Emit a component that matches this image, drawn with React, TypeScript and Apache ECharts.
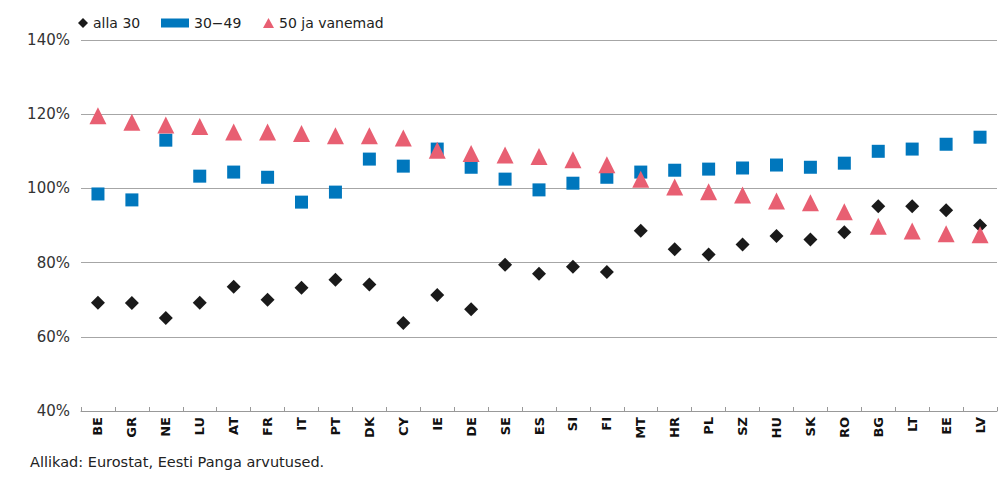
import React, { useEffect, useRef } from "react";
import * as echarts from "echarts";

const categories = ["BE","GR","NE","LU","AT","FR","IT","PT","DK","CY","IE","DE","SE","ES","SI","FI","MT","HR","PL","SZ","HU","SK","RO","BG","LT","EE","LV"];
const alla30 = [69.2,69.1,65.1,69.2,73.5,70.0,73.2,75.4,74.1,63.7,71.3,67.4,79.4,77.0,78.9,77.5,88.6,83.6,82.2,84.9,87.2,86.2,88.2,95.2,95.2,94.1,90.0];
const vanus3049 = [98.5,96.9,113.0,103.3,104.4,103.0,96.3,99.0,107.9,106.0,110.6,105.7,102.5,99.6,101.4,103.0,104.4,104.9,105.2,105.5,106.3,105.7,106.8,110.0,110.6,111.9,113.8];
const vanus50 = [119.6,117.8,117.1,116.7,115.2,115.2,114.8,114.2,114.2,113.6,110.3,109.4,109.0,108.6,107.7,106.4,102.5,100.4,99.1,98.2,96.6,96.1,93.7,89.8,88.5,87.8,87.5];
const yTicks = { min: 40, max: 140, interval: 20 };
const sourceText = "Allikad: Eurostat, Eesti Panga arvutused.";

const FONT = "DejaVu Sans";

export default function App() {
  const ref = useRef<HTMLDivElement>(null);
  useEffect(() => {
    if (!ref.current) return;
    const chart = echarts.init(ref.current, null, { renderer: "svg" });
    const legendBase = {
      orient: "horizontal",
      top: 16,
      padding: 0,
      textStyle: { fontFamily: FONT, fontSize: 14, color: "#222" },
    };
    chart.setOption({
      animation: false,
      backgroundColor: "#fff",
      legend: [
        { ...legendBase, left: 78, icon: "diamond", itemWidth: 10, itemHeight: 10, data: ["alla 30"] },
        { ...legendBase, left: 161, icon: "rect", itemWidth: 28, itemHeight: 9, data: ["30−49"] },
        { ...legendBase, left: 263, icon: "triangle", itemWidth: 11, itemHeight: 10, data: ["50 ja vanemad"] },
      ],
      grid: { left: 81, right: 9, top: 40, bottom: 70, containLabel: false },
      xAxis: {
        type: "category",
        data: categories,
        boundaryGap: true,
        axisLine: { show: true, lineStyle: { color: "#999", width: 1 } },
        axisTick: { show: true, inside: true, length: 4, lineStyle: { color: "#999" } },
        axisLabel: {
          rotate: 90,
          interval: 0,
          margin: 6,
          fontFamily: FONT,
          fontSize: 13,
          fontWeight: "bold",
          color: "#111",
        },
        splitLine: { show: false },
      },
      yAxis: {
        type: "value",
        min: yTicks.min,
        max: yTicks.max,
        interval: yTicks.interval,
        axisLine: { show: false },
        axisTick: { show: false },
        axisLabel: {
          formatter: "{value}%",
          fontFamily: FONT,
          fontSize: 15,
          color: "#333",
          margin: 11,
        },
        splitLine: { show: true, lineStyle: { color: "#a6a6a6", width: 1 } },
      },
      series: [
        {
          name: "alla 30",
          type: "scatter",
          data: alla30,
          symbol: "diamond",
          symbolSize: 14,
          itemStyle: { color: "#1a1a1a", opacity: 1 },
          z: 2,
        },
        {
          name: "30−49",
          type: "scatter",
          data: vanus3049,
          symbol: "rect",
          symbolSize: 13,
          itemStyle: { color: "#0077bd", opacity: 1 },
          z: 3,
        },
        {
          name: "50 ja vanemad",
          type: "scatter",
          data: vanus50,
          symbol: "triangle",
          symbolSize: [17, 17],
          itemStyle: { color: "#e85f72", opacity: 1 },
          z: 4,
        },
      ],
      graphic: [
        {
          type: "line",
          shape: { x1: 7.5, y1: 0, x2: 7.5, y2: 481 },
          style: { stroke: "#999", lineWidth: 1 },
        },
        {
          type: "text",
          left: 30,
          top: 454,
          style: { text: sourceText, fontFamily: FONT, fontSize: 14.5, fill: "#222" },
        },
      ],
    });
    return () => chart.dispose();
  }, []);
  return <div ref={ref} style={{ width: 1006, height: 481, margin: -8 }} />;
}
